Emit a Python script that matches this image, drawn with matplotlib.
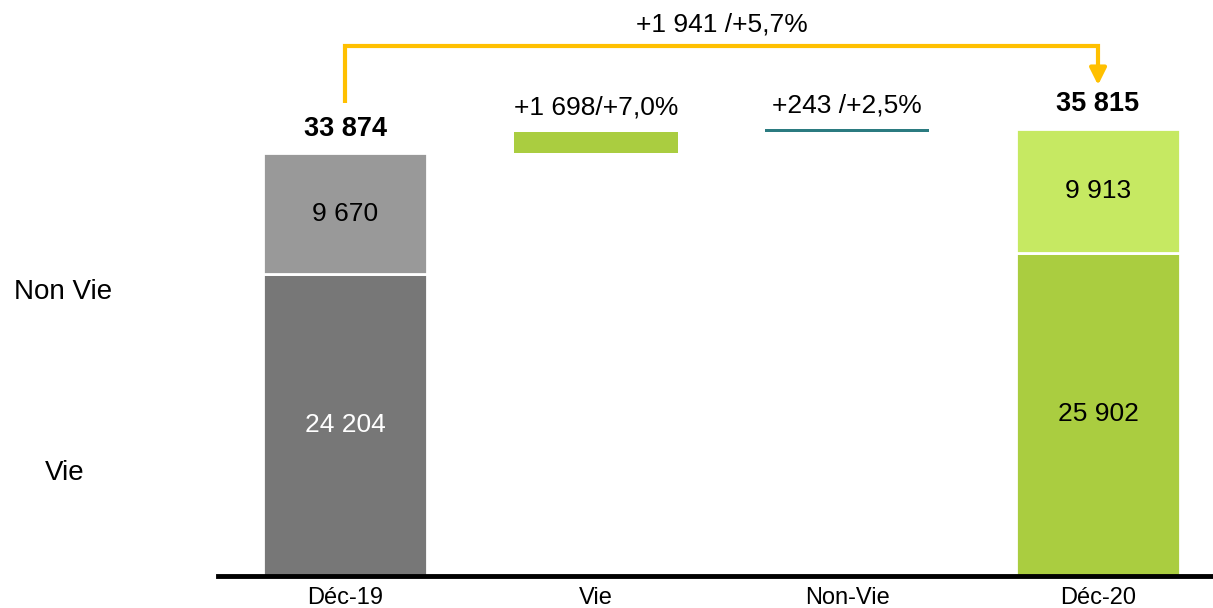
import numpy as np
from matplotlib import pyplot as plt

plt.rcParams['font.family'] = ['Liberation Sans', 'DejaVu Sans']

# data
categories = ["Déc-19", "Vie", "Non-Vie", "Déc-20"]
vie = [24204, 25902]
non_vie = [9670, 9913]
totals = [33874, 35815]
delta_vie = 1698
delta_nonvie = 243
delta_labels = ["+1 698/+7,0%", "+243 /+2,5%"]
total_change_label = "+1 941 /+5,7%"

def fmt(v):
    return "{:,}".format(v).replace(",", " ")

fig = plt.figure(figsize=(12.13, 6.08), dpi=100)
ax = fig.add_axes([218 / 1213, 32 / 608, 995 / 1213, 576 / 608])

x = np.arange(len(categories))
w = 0.65

# start / end stacked bars
ax.bar(x[0], vie[0], w, color="#777777", edgecolor="white", linewidth=2)
ax.bar(x[0], non_vie[0], w, bottom=vie[0], color="#999999", edgecolor="white", linewidth=2)
ax.bar(x[3], vie[1], w, color="#aacd40", edgecolor="white", linewidth=2)
ax.bar(x[3], non_vie[1], w, bottom=vie[1], color="#c6e962", edgecolor="white", linewidth=2)

# floating bars
ax.bar(x[1], delta_vie, w, bottom=totals[0], color="#aacd40")
ax.bar(x[2], delta_nonvie, w, bottom=totals[0] + delta_vie, color="#2b7b80")

# segment labels
ax.text(x[0], vie[0] / 2, fmt(vie[0]), ha="center", va="center", fontsize=19, color="white")
ax.text(x[0], vie[0] + non_vie[0] / 2, fmt(non_vie[0]), ha="center", va="center", fontsize=19)
ax.text(x[3], vie[1] / 2, fmt(vie[1]), ha="center", va="center", fontsize=19)
ax.text(x[3], vie[1] + non_vie[1] / 2, fmt(non_vie[1]), ha="center", va="center", fontsize=19)

# totals
ax.text(x[0], totals[0] + 1950, fmt(totals[0]), ha="center", va="center", fontsize=19.5, fontweight="bold")
ax.text(x[3], totals[1] + 2000, fmt(totals[1]), ha="center", va="center", fontsize=19.5, fontweight="bold")

# deltas
ax.text(x[1], totals[0] + delta_vie + 1930, delta_labels[0], ha="center", va="center", fontsize=19)
ax.text(x[2], totals[1] + 1850, delta_labels[1], ha="center", va="center", fontsize=19)

# yellow connector arrow
top = totals[1] + 6650
ax.plot([x[0], x[0], x[3], x[3]], [totals[0] + 4030, top, top, totals[1] + 4000],
        color="#ffc000", lw=3, solid_capstyle="butt", solid_joinstyle="miter")
ax.annotate("", xy=(x[3], totals[1] + 3300), xytext=(x[3], totals[1] + 4600),
            arrowprops=dict(arrowstyle="-|>,head_width=0.5,head_length=1.0", color="#ffc000", lw=3))
ax.text((x[0] + x[3]) / 2, top + 1750, total_change_label, ha="center", va="center", fontsize=19)

ax.set_xlim(-0.506, 3.458)
ax.set_ylim(0, 576 * 80.13)
ax.set_xticks(x)
ax.set_xticklabels(categories, fontsize=17)
ax.tick_params(axis="x", length=0, pad=8)
ax.set_yticks([])
for s in ["top", "right", "left"]:
    ax.spines[s].set_visible(False)
ax.spines["bottom"].set_linewidth(3.5)

# row labels on the left
fig.text(63 / 1213, 1 - 292 / 608, "Non Vie", ha="center", va="center", fontsize=20)
fig.text(65 / 1213, 1 - 473 / 608, "Vie", ha="center", va="center", fontsize=20)

plt.savefig("out.png", dpi=100)
